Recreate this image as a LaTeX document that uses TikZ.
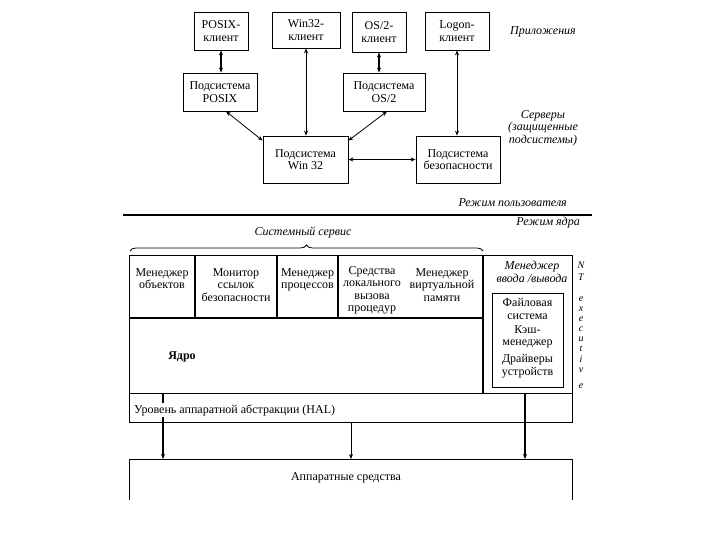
\documentclass[tikz,border=0pt]{standalone}
\usepackage{fontspec}
\setmainfont{Liberation Serif}
\usetikzlibrary{arrows.meta,decorations.pathreplacing}
\begin{document}
\begin{tikzpicture}[x=1pt,y=-1pt,
	lbl/.style={align=center,inner sep=0pt,font=\fontsize{12}{12.5}\selectfont},
	ilbl/.style={lbl,font=\fontsize{12}{12.5}\selectfont\itshape},
	box/.style={lbl,draw,line width=0.8pt},
	tip/.tip={Stealth[length=5pt,width=4pt]},
	link/.style={tip-tip,line width=0.8pt},
	biglink/.style={link,line width=1.6pt},
	down/.style={-tip,line width=0.8pt}]
	\useasboundingbox (0,0) rectangle (720,540);
	% clients and subsystems
	\node[box,minimum width=54pt,minimum height=38pt] (posixc) at (221,31) {POSIX-\\клиент};
	\node[box,minimum width=68pt,minimum height=36pt] (win32c) at (306,30) {Win32-\\клиент};
	\node[box,minimum width=54pt,minimum height=40pt] (os2c) at (379,32) {OS/2-\\клиент};
	\node[box,minimum width=64pt,minimum height=38pt] (logonc) at (457,31) {Logon-\\клиент};
	\node[box,minimum width=74pt,minimum height=38pt] (posixs) at (220,92) {Подсистема\\POSIX};
	\node[box,minimum width=82pt,minimum height=38pt] (os2s) at (384,92) {Подсистема\\OS/2};
	\node[box,minimum width=85pt,minimum height=47pt] (win32s) at (305.5,159.5) {Подсистема\\Win 32};
	\node[box,minimum width=84pt,minimum height=47pt] (secs) at (458,159.5) {Подсистема\\безопасности};
	\node[ilbl] (apps) at (543,32) {Приложения};
	\node[ilbl] (servers) at (543,128) {Серверы\\(защищенные\\подсистемы)};
	\draw[biglink] (posixc.south) -- (posixc.south |- posixs.north);
	\draw[link] (win32c.south) -- (win32c.south |- win32s.north);
	\draw[biglink] (os2c.south) -- (os2c.south |- os2s.north);
	\draw[link] (logonc.south) -- (logonc.south |- secs.north);
	\draw[link] ([xshift=6pt]posixs.south) -- ([yshift=-5pt]win32s.north west);
	\draw[link] ([xshift=3pt]os2s.south) -- ([yshift=-5pt]win32s.north east);
	\draw[biglink] (win32s.east) -- (secs.west);
	% user / kernel mode
	\draw[line width=2.5pt] (123,215) -- (592,215);
	\node[ilbl,anchor=east] (umode) at (567,203) {Режим пользователя};
	\node[ilbl,anchor=east] (kmode) at (580,223) {Режим ядра};
	\node[ilbl] (syssvc) at (303,233) {Системный сервис};
	\draw[line width=0.8pt,decorate,decoration={brace,amplitude=6pt}] (130,251) -- (483,251);
	% executive
	\draw[line width=0.8pt] (129,255) rectangle (572,422);
	\draw[line width=0.8pt] (129,393) -- (572,393);
	\draw[line width=1.6pt] (129,318) -- (483,318);
	\draw[line width=1.6pt] (483,255) -- (483,393);
	\foreach \xx in {195,277,338}
		\draw[line width=1.6pt] (\xx,255) -- (\xx,318);
	\node[lbl,anchor=north] (objm) at (162,268) {Менеджер\\объектов};
	\node[lbl,anchor=north] (srm) at (236,268) {Монитор\\ссылок\\безопасности};
	\node[lbl,anchor=north] (procm) at (307.5,268) {Менеджер\\процессов};
	\node[lbl,anchor=north] (lpc) at (372,266) {Средства\\локального\\вызова\\процедур};
	\node[lbl,anchor=north] (vmm) at (442,268) {Менеджер\\виртуальной\\памяти};
	\node[lbl,font=\fontsize{12}{12.5}\selectfont\bfseries] (kernel) at (182,357) {Ядро};
	\node[ilbl] (iom) at (532,272) {Менеджер\\ввода /вывода};
	\node[box,minimum width=71pt,minimum height=94pt] (iobox) at (527.5,340) {};
	\node[lbl] (fs) at (527.5,309) {Файловая\\система};
	\node[lbl] (cache) at (527.5,337) {Кэш-\\менеджер};
	\node[lbl] (drv) at (527.5,366) {Драйверы\\устройств};
	\foreach \ch/\yy [count=\k] in {N/265,T/277,e/299,x/309,e/319,c/329,u/339,t/349,i/359,v/370,e/386}
		\node[ilbl,font=\fontsize{10}{10}\selectfont\itshape] (nt\k) at (581,\yy) {\ch};
	% HAL and hardware
	\coordinate (kl) at (163,393);
	\coordinate (hl) at (351,422);
	\coordinate (kr) at (525,393);
	\coordinate (hwl) at (163,459);
	\coordinate (hwm) at (351,459);
	\coordinate (hwr) at (525,459);
	\draw[down,line width=1.6pt] (kl) -- (hwl);
	\draw[down] (hl) -- (hwm);
	\draw[down,line width=1.6pt] (kr) -- (hwr);
	\node[lbl,anchor=west,fill=white,inner sep=1pt] (hal) at (133,410) {Уровень аппаратной абстракции (HAL)};
	\draw[line width=0.8pt] (129,500) -- (129,459) -- (572,459) -- (572,500);
	\node[lbl] (hw) at (346,478) {Аппаратные средства};
\end{tikzpicture}
\end{document}
